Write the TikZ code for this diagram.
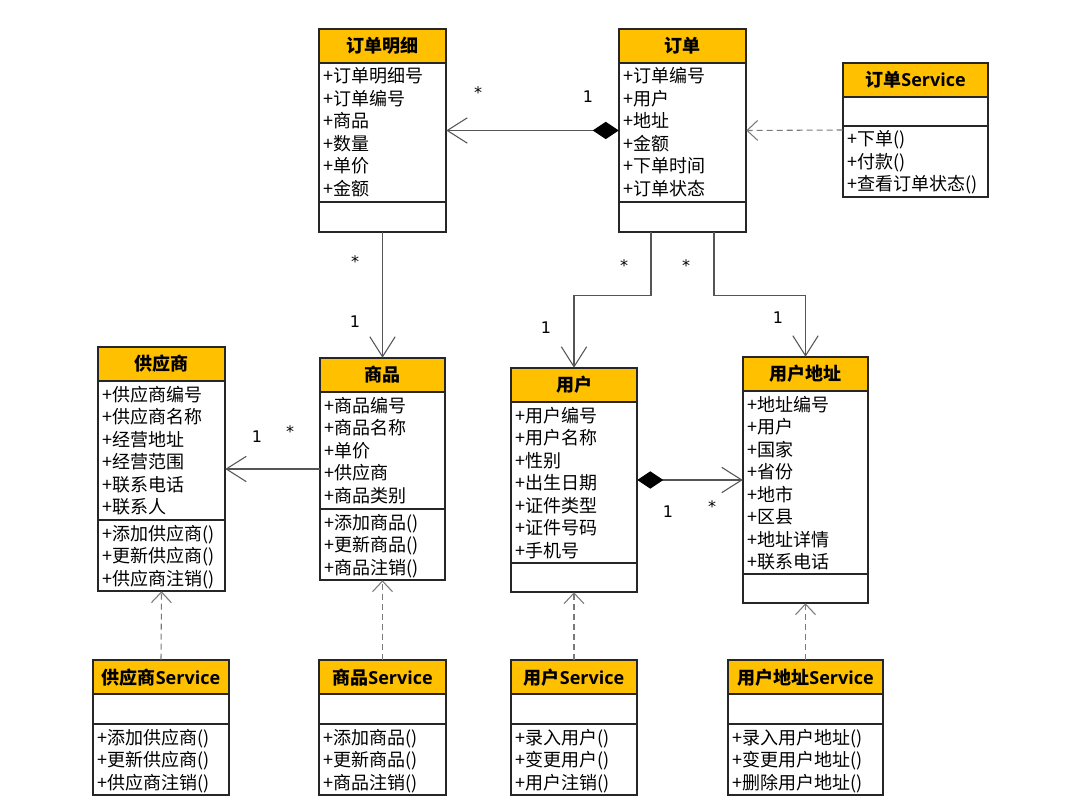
\documentclass[tikz,border=0pt]{standalone}
\usepackage{fontspec}
\setmainfont{Noto Sans CJK SC}
\newfontfamily\svcfont{Open Sans}
\newfontfamily\lblfont{DejaVu Sans}
\usetikzlibrary{arrows.meta,fit,calc}
\definecolor{hdrcol}{HTML}{FFC000}
\definecolor{boxline}{HTML}{262626}
\definecolor{linecol}{HTML}{555555}
\definecolor{depcol}{HTML}{7A7A7A}
\newcommand\svc{{\svcfont\bfseries Service}}
\newcommand\rowsof[1]{\vtop{\hsize=5cm\parindent=0pt\parskip=0pt\raggedright\leavevmode #1\par}}
\tikzset{
  boxpen/.style={draw=boxline, line width=1.1pt},
  titletext/.style={font=\fontsize{13.5}{16}\selectfont\bfseries, inner sep=0pt, anchor=base},
  rowtext/.style={font=\fontsize{13.5}{16.875}\selectfont, inner sep=0pt, anchor=base west},
  assoc/.style={draw=linecol, line width=0.8pt},
  depline/.style={draw=depcol, line width=0.8pt, dash pattern=on 4.5pt off 3pt},
  opentip/.style={-{Straight Barb[length=15pt,width=19pt]}},
  deptip/.style={-{Straight Barb[length=8pt,width=15pt]}},
  comptip/.style={{Diamond[length=19.5pt,width=13pt,color=black]}-{Straight Barb[length=15pt,width=19pt]}},
  mult/.style={font=\lblfont\fontsize{12}{14}\selectfont, inner sep=0pt}
}
% name, x1, x2, ytop, ysep, ybot, title, attrs, ops
\newcommand\umlclass[9]{%
  \fill[hdrcol] (#2,#4) rectangle (#3,{#4+34});
  \draw[boxpen] (#2,#4) rectangle (#3,#6);
  \draw[boxpen] (#2,{#4+34}) -- (#3,{#4+34});
  \draw[boxpen] (#2,#5) -- (#3,#5);
  \node[fit={(#2,#4)(#3,#6)}, inner sep=0pt] (#1) {};
  \node[titletext] (#1-t) at ({(#2+#3)/2},{#4+24}) {#7};
  \node[rowtext] (#1-a) at ({#2+4},{#4+54}) {\rowsof{#8}};
  \node[rowtext] (#1-o) at ({#2+4},{#5+20}) {\rowsof{#9}};
}
\begin{document}
\begin{tikzpicture}[x=0.75pt,y=-0.75pt]
\fill[white] (0,0) rectangle (1080,812);
\useasboundingbox (0,0) rectangle (1080,812);

\umlclass{ddmx}{319}{446}{29}{202}{232}{订单明细}{+订单明细号\\+订单编号\\+商品\\+数量\\+单价\\+金额}{}
\umlclass{dd}{619}{746}{29}{202}{232}{订单}{+订单编号\\+用户\\+地址\\+金额\\+下单时间\\+订单状态}{}
\umlclass{ddsvc}{843}{988}{63}{126}{197}{订单\svc}{}{+下单()\\+付款()\\+查看订单状态()}
\umlclass{gys}{98}{225}{347}{520}{591}{供应商}{+供应商编号\\+供应商名称\\+经营地址\\+经营范围\\+联系电话\\+联系人}{+添加供应商()\\+更新供应商()\\+供应商注销()}
\umlclass{sp}{320}{445}{358}{509}{580}{商品}{+商品编号\\+商品名称\\+单价\\+供应商\\+商品类别}{+添加商品()\\+更新商品()\\+商品注销()}
\umlclass{yh}{511}{637}{368}{563}{592}{用户}{+用户编号\\+用户名称\\+性别\\+出生日期\\+证件类型\\+证件号码\\+手机号}{}
\umlclass{yhdz}{743}{868}{357}{574}{603}{用户地址}{+地址编号\\+用户\\+国家\\+省份\\+地市\\+区县\\+地址详情\\+联系电话}{}
\umlclass{gyssvc}{93}{229}{660}{724}{795}{供应商\svc}{}{+添加供应商()\\+更新供应商()\\+供应商注销()}
\umlclass{spsvc}{319}{446}{660}{724}{795}{商品\svc}{}{+添加商品()\\+更新商品()\\+商品注销()}
\umlclass{yhsvc}{511}{637}{660}{724}{795}{用户\svc}{}{+录入用户()\\+变更用户()\\+用户注销()}
\umlclass{yhdzsvc}{728}{883}{660}{724}{795}{用户地址\svc}{}{+录入用户地址()\\+变更用户地址()\\+删除用户地址()}

% associations
\draw[assoc, comptip] (dd.west) -- (ddmx.east);
\draw[assoc, opentip] (ddmx.south) -- (sp.north);
\draw[assoc, opentip] ($(dd.south)+(-31.5,0)$) -- ++(0,63) -| (yh.north);
\draw[assoc, opentip] ($(dd.south)+(31.5,0)$) -- ++(0,63) -| (yhdz.north);
\draw[assoc, opentip] (sp.west) -- (gys.east);
\draw[assoc, comptip] (yh.east) -- (yhdz.west);

% dependencies
\draw[depline, deptip] (ddsvc.west) -- (dd.east);
\draw[depline, deptip] (gyssvc.north) -- (gys.south);
\draw[depline, deptip] (spsvc.north) -- (sp.south);
\draw[depline, deptip] (yhsvc.north) -- (yh.south);
\draw[depline, deptip] (yhdzsvc.north) -- (yhdz.south);

% multiplicities
\node[mult] (m1) at (478,93) {*};
\node[mult] (m2) at (588,97) {1};
\node[mult] (m3) at (355,262) {*};
\node[mult] (m4) at (355,322) {1};
\node[mult] (m5) at (624,266) {*};
\node[mult] (m6) at (546,328) {1};
\node[mult] (m7) at (686,266) {*};
\node[mult] (m8) at (778,318) {1};
\node[mult] (m9) at (257,437) {1};
\node[mult] (m10) at (290,432) {*};
\node[mult] (m11) at (668,512) {1};
\node[mult] (m12) at (712,507) {*};
\end{tikzpicture}
\end{document}
